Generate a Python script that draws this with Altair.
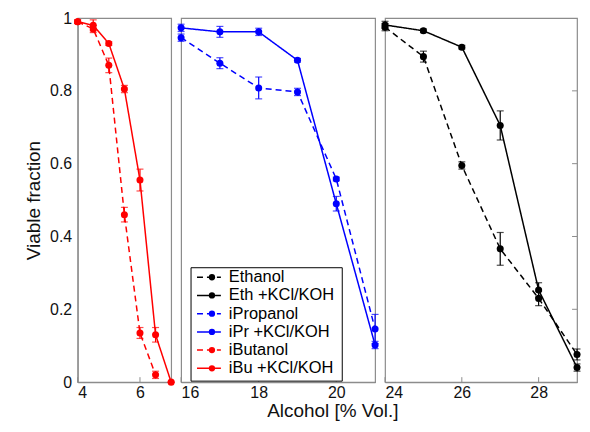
import altair as alt
import pandas as pd

# ---- data ----
series_names = ["Ethanol", "Eth +KCl/KOH", "iPropanol", "iPr +KCl/KOH", "iButanol", "iBu +KCl/KOH"]
series_colors = ["#000000", "#000000", "#0000ff", "#0000ff", "#ff0000", "#ff0000"]
series_dash = [[6, 4], [1, 0], [6, 4], [1, 0], [6, 4], [1, 0]]

eth_x = [24, 25, 26, 27, 28, 29]
ethanol = [0.975, 0.894, 0.595, 0.366, 0.230, 0.076]
ethanol_err = [0.010, 0.015, 0.010, 0.045, 0.020, 0.015]
eth_kcl = [0.981, 0.965, 0.920, 0.705, 0.253, 0.040]
eth_kcl_err = [0.010, 0.005, 0.005, 0.040, 0.020, 0.010]

pr_x = [16, 17, 18, 19, 20, 21]
ipropanol = [0.946, 0.876, 0.808, 0.797, 0.558, 0.146]
ipropanol_err = [0.010, 0.015, 0.030, 0.010, 0.005, 0.040]
ipr_kcl = [0.973, 0.962, 0.962, 0.884, 0.490, 0.102]
ipr_kcl_err = [0.010, 0.015, 0.010, 0.005, 0.020, 0.010]

ibu_x = [4, 4.5, 5, 5.5, 6, 6.5]
ibutanol = [0.990, 0.970, 0.870, 0.460, 0.135, 0.020]
ibutanol_err = [0.005, 0.010, 0.020, 0.020, 0.015, 0.010]
ibu_kcl_x = [4, 4.5, 5, 5.5, 6, 6.5, 7]
ibu_kcl = [0.990, 0.980, 0.930, 0.805, 0.555, 0.130, 0.000]
ibu_kcl_err = [0.005, 0.015, 0.005, 0.010, 0.030, 0.020, 0.000]

y_ticks = [0, 0.2, 0.4, 0.6, 0.8, 1]

rows = []
def add(panel, name, xs, ys, es):
    for x, y, e in zip(xs, ys, es):
        rows.append({"panel": panel, "series": name, "x": x, "y": y, "err": e})

add("p3", "Ethanol", eth_x, ethanol, ethanol_err)
add("p3", "Eth +KCl/KOH", eth_x, eth_kcl, eth_kcl_err)
add("p2", "iPropanol", pr_x, ipropanol, ipropanol_err)
add("p2", "iPr +KCl/KOH", pr_x, ipr_kcl, ipr_kcl_err)
add("p1", "iButanol", ibu_x, ibutanol, ibutanol_err)
add("p1", "iBu +KCl/KOH", ibu_kcl_x, ibu_kcl, ibu_kcl_err)
df = pd.DataFrame(rows)

GRAY = "#8c8c8c"
FONT = "Liberation Sans"
H = 366

color = alt.Color("series:N", scale=alt.Scale(domain=series_names, range=series_colors), legend=None)
dash = alt.StrokeDash("series:N", scale=alt.Scale(domain=series_names, range=series_dash), legend=None)


def panel(pid, dom, ticks, width, left=False, right=False, legend=False, xtitle=False):
    xaxis = alt.Axis(values=ticks, title="Alcohol [% Vol.]" if xtitle else None,
                     ticks=False, labelPadding=2, titlePadding=2,
                     **({"titleX": 152} if xtitle else {}))
    x = alt.X("x:Q", scale=alt.Scale(domain=dom, nice=False, zero=False), axis=xaxis)
    if left:
        yaxis = alt.Axis(values=y_ticks, format="~g", title="Viable fraction",
                         ticks=False, labelPadding=6, titlePadding=6)
    else:
        yaxis = None
    y = alt.Y("y:Q", scale=alt.Scale(domain=[0, 1], nice=False), axis=yaxis)

    base = alt.Chart(df).transform_filter(alt.datum.panel == pid)
    line = base.mark_line(strokeWidth=1.5).encode(x=x, y=y, color=color, strokeDash=dash)
    eb = base.transform_calculate(lo="datum.y - datum.err", hi="datum.y + datum.err")
    bars = eb.mark_rule(strokeWidth=1.2).encode(x="x:Q", y="lo:Q", y2="hi:Q", color=color)
    cap_lo = eb.mark_tick(orient="horizontal", size=7, thickness=1.2).encode(x="x:Q", y="lo:Q", color=color)
    cap_hi = eb.mark_tick(orient="horizontal", size=7, thickness=1.2).encode(x="x:Q", y="hi:Q", color=color)
    pts = base.mark_point(filled=True, size=50, opacity=1).encode(x="x:Q", y="y:Q", color=color)

    btick = alt.Chart(pd.DataFrame({"x": ticks})).mark_rule(color=GRAY, strokeWidth=1).encode(
        x="x:Q", y=alt.value(H), y2=alt.value(H - 5))
    layers = [btick, line, bars, cap_lo, cap_hi, pts]
    if right:
        rtick = alt.Chart(pd.DataFrame({"y": y_ticks[1:-1]})).mark_rule(color=GRAY, strokeWidth=1).encode(
            y="y:Q", x=alt.value(width - 5), x2=alt.value(width))
        layers.append(rtick)
    if legend:
        ldf = pd.DataFrame({"series": series_names, "idx": list(range(len(series_names)))})
        lb = alt.Chart(ldf).transform_calculate(ly="0.288 - datum.idx * 0.05")
        box = alt.Chart(pd.DataFrame({"a": [0]})).mark_rect(fill="white", stroke="black", strokeWidth=1).encode(
            x=alt.value(10), x2=alt.value(162), y=alt.value(251), y2=alt.value(H - 1))
        lrule = lb.mark_rule(strokeWidth=1.5).encode(
            x=alt.value(16), x2=alt.value(40), y="ly:Q", color=color, strokeDash=dash)
        lpt = lb.mark_point(filled=True, size=40, opacity=1).encode(
            x=alt.value(31), y="ly:Q", color=color)
        ltxt = lb.mark_text(align="left", baseline="middle", fontSize=16.5, font=FONT, color="black").encode(
            x=alt.value(48), y="ly:Q", text="series:N")
        layers += [box, lrule, lpt, ltxt]
    return alt.layer(*layers).properties(width=width, height=H)


p1 = panel("p1", [4, 7], [4, 6], 94, left=True)
p2 = panel("p2", [16, 21], [16, 18, 20], 195, legend=True, xtitle=True)
p3 = panel("p3", [24, 29], [24, 26, 28], 193, right=True)

chart = alt.hconcat(p1, p2, p3, spacing=10, bounds="flush").properties(
    padding={"left": 16, "top": 0, "right": 0, "bottom": 0}
).configure_view(stroke=GRAY, strokeWidth=1.2).configure_axis(
    labelFont=FONT, titleFont=FONT, labelFontSize=16, titleFontSize=19,
    labelColor="#111", titleColor="#111", titleFontWeight="normal",
    domainColor=GRAY, domainWidth=1.2, grid=False
)

chart.save("out.html", embed_options={"renderer": "svg", "actions": False})
